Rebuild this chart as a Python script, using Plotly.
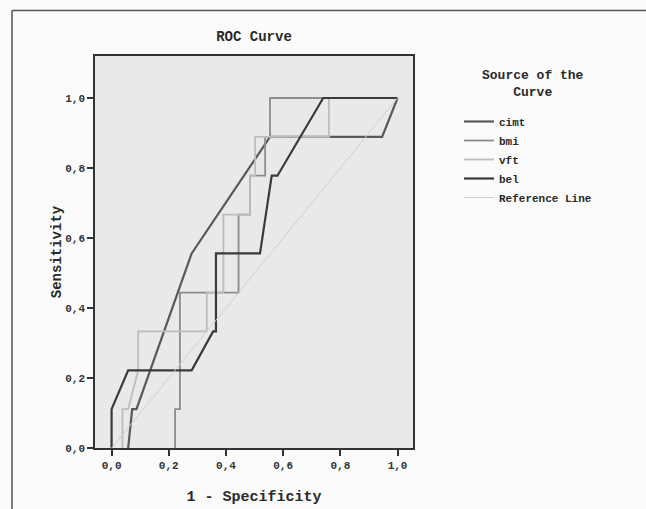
import plotly.graph_objects as go

# ROC curve data (1 - specificity, sensitivity)
cimt_fpr = [0.058, 0.072, 0.087, 0.280, 0.554, 0.946, 1.000]
cimt_tpr = [0.000, 0.111, 0.111, 0.556, 0.889, 0.889, 1.000]

bmi_fpr = [0.222, 0.222, 0.239, 0.239, 0.444, 0.444, 0.484, 0.484, 0.537, 0.537, 0.554, 0.554, 1.000]
bmi_tpr = [0.000, 0.111, 0.111, 0.444, 0.444, 0.667, 0.667, 0.778, 0.778, 0.889, 0.889, 1.000, 1.000]

vft_fpr = [0.038, 0.038, 0.058, 0.093, 0.093, 0.333, 0.333, 0.391, 0.391, 0.484, 0.484, 0.502, 0.502, 0.760, 0.760, 1.000]
vft_tpr = [0.000, 0.111, 0.111, 0.222, 0.333, 0.333, 0.444, 0.444, 0.667, 0.667, 0.778, 0.778, 0.889, 0.889, 1.000, 1.000]

bel_fpr = [0.000, 0.000, 0.058, 0.280, 0.355, 0.365, 0.365, 0.519, 0.560, 0.580, 0.740, 1.000]
bel_tpr = [0.000, 0.111, 0.222, 0.222, 0.333, 0.333, 0.556, 0.556, 0.778, 0.778, 1.000, 1.000]

ref_fpr = [0.0, 1.0]
ref_tpr = [0.0, 1.0]

x_ticks = [0.0, 0.2, 0.4, 0.6, 0.8, 1.0]
x_tick_labels = ["0,0", "0,2", "0,4", "0,6", "0,8", "1,0"]
y_ticks = [0.0, 0.2, 0.4, 0.6, 0.8, 1.0]
y_tick_labels = ["0,0", "0,2", "0,4", "0,6", "0,8", "1,0"]

FONT = "Liberation Mono, Courier New, monospace"

# plot area in pixels
L, R, T, B = 95, 413, 56, 448
W, H = R - L, B - T


def px_x(px):
    return (px - L) / W


def px_y(py):
    return (B - py) / H


fig = go.Figure()
fig.add_trace(go.Scatter(x=cimt_fpr, y=cimt_tpr, mode="lines", name="cimt",
                         line=dict(color="#595959", width=2.2)))
fig.add_trace(go.Scatter(x=bmi_fpr, y=bmi_tpr, mode="lines", name="bmi",
                         line=dict(color="#8c8c8c", width=1.8)))
fig.add_trace(go.Scatter(x=vft_fpr, y=vft_tpr, mode="lines", name="vft",
                         line=dict(color="#bdbdbd", width=1.8)))
fig.add_trace(go.Scatter(x=bel_fpr, y=bel_tpr, mode="lines", name="bel",
                         line=dict(color="#3a3a3a", width=2.2)))
fig.add_trace(go.Scatter(x=ref_fpr, y=ref_tpr, mode="lines", name="Reference Line",
                         line=dict(color="#d0d0d0", width=1)))

fig.update_layout(
    width=646, height=509,
    margin=dict(l=L, r=646 - R, t=T, b=509 - B, autoexpand=False),
    paper_bgcolor="#fbfbfb",
    plot_bgcolor="#e9e9e9",
    font=dict(family=FONT, color="#2a2a2a", size=11),
    title=dict(text="<b>ROC Curve</b>", x=(L + W / 2) / 646, xanchor="center",
               y=1 - 36 / 509, yanchor="middle", font=dict(size=14, family=FONT)),
    showlegend=True,
    legend=dict(
        x=px_x(459), xanchor="left", y=px_y(107), yanchor="top",
        bgcolor="rgba(0,0,0,0)",
        font=dict(size=11, family=FONT, color="#2a2a2a", weight="bold"),
        itemwidth=30,
    ),
    xaxis=dict(
        range=[-0.058, 1.054], tickvals=x_ticks, ticktext=x_tick_labels,
        ticks="outside", ticklen=6, tickcolor="#333", tickwidth=1.5,
        showgrid=False, zeroline=False, automargin=False,
        showline=True, linecolor="#333", linewidth=1.5, mirror=True,
        tickfont=dict(size=11, family=FONT, weight="bold", color="#333"),
        title=dict(text="<b>1 - Specificity</b>", font=dict(size=15, family=FONT), standoff=20),
    ),
    yaxis=dict(
        range=[0, 1.12], tickvals=y_ticks, ticktext=y_tick_labels,
        ticks="outside", ticklen=6, tickcolor="#333", tickwidth=1.5,
        showgrid=False, zeroline=False, automargin=False,
        showline=True, linecolor="#333", linewidth=1.5, mirror=True,
        tickfont=dict(size=11, family=FONT, weight="bold", color="#333"),
        title=dict(text="<b>Sensitivity</b>", font=dict(size=14, family=FONT), standoff=0),
    ),
)

# legend title
fig.add_annotation(text="<b>Source of the<br>Curve</b>", xref="paper", yref="paper",
                   x=px_x(533), y=px_y(84), xanchor="center", yanchor="middle",
                   showarrow=False, align="center",
                   font=dict(size=13, family=FONT, color="#2a2a2a"))

# outer chart frame (top and left edges)
fig.add_shape(type="line", xref="paper", yref="paper",
              x0=px_x(12), x1=px_x(660), y0=px_y(10.5), y1=px_y(10.5),
              line=dict(color="#555", width=1.5))
fig.add_shape(type="line", xref="paper", yref="paper",
              x0=px_x(12), x1=px_x(12), y0=px_y(10.5), y1=px_y(520),
              line=dict(color="#555", width=1.5))

fig.write_html("out.html", config={"displayModeBar": False},
               post_script="document.body.style.margin='0px';")
